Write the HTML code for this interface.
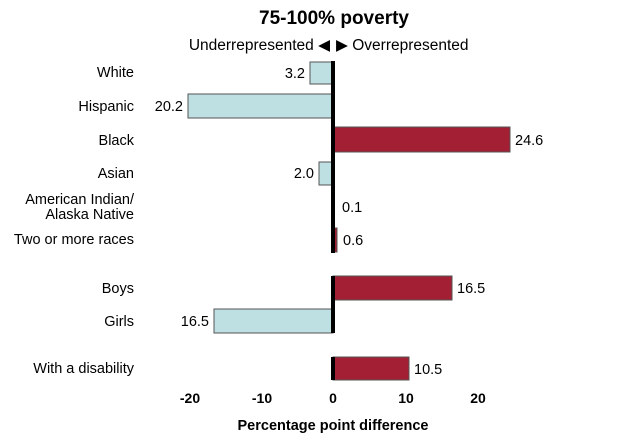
<!DOCTYPE html>
<html><head><meta charset="utf-8"><style>body{margin:0;background:#fff}svg{display:block}</style></head><body>
<svg width="622" height="441" viewBox="0 0 622 441" font-family="Liberation Sans, sans-serif" fill="#000">
<rect width="622" height="441" fill="#fff"/>
<text x="334" y="24" text-anchor="middle" font-size="19" font-weight="bold">75-100% poverty</text>
<text x="330" y="50" text-anchor="end" font-size="15.5">Underrepresented ◀</text>
<text x="336" y="50" font-size="15.5">▶ Overrepresented</text>
<g font-size="14.5">
<text x="134" y="77" text-anchor="end">White</text>
<text x="134" y="111" text-anchor="end">Hispanic</text>
<text x="134" y="145" text-anchor="end">Black</text>
<text x="134" y="178" text-anchor="end">Asian</text>
<text x="134" y="204" text-anchor="end">American Indian/</text>
<text x="134" y="219" text-anchor="end">Alaska Native</text>
<text x="134" y="244" text-anchor="end">Two or more races</text>
<text x="134" y="293" text-anchor="end">Boys</text>
<text x="134" y="326" text-anchor="end">Girls</text>
<text x="134" y="373" text-anchor="end">With a disability</text>
</g>
<g stroke="#555" stroke-width="1">
<rect x="310" y="62" width="23" height="22" fill="#bfe0e3"/>
<rect x="188" y="94" width="145" height="24" fill="#bfe0e3"/>
<rect x="333" y="127" width="177" height="25" fill="#a31f34"/>
<rect x="319" y="162" width="14" height="23" fill="#bfe0e3"/>
<rect x="333" y="228" width="4" height="24" fill="#a31f34"/>
<rect x="333" y="276" width="119" height="24" fill="#a31f34"/>
<rect x="214" y="309" width="119" height="24" fill="#bfe0e3"/>
<rect x="333" y="357" width="76" height="23" fill="#a31f34"/>
</g>
<g fill="#000">
<rect x="331" y="61" width="4" height="192"/>
<rect x="331" y="276" width="4" height="57"/>
<rect x="331" y="357" width="4" height="23"/>
</g>
<g font-size="14.5">
<text x="305" y="78" text-anchor="end">3.2</text>
<text x="183" y="111" text-anchor="end">20.2</text>
<text x="515" y="145" >24.6</text>
<text x="314" y="178" text-anchor="end">2.0</text>
<text x="342" y="212">0.1</text>
<text x="343" y="245">0.6</text>
<text x="457" y="293">16.5</text>
<text x="209" y="326" text-anchor="end">16.5</text>
<text x="414" y="374">10.5</text>
</g>
<g font-size="14" font-weight="bold" text-anchor="middle">
<text x="190" y="403">-20</text>
<text x="262" y="403">-10</text>
<text x="333" y="403">0</text>
<text x="406" y="403">10</text>
<text x="478" y="403">20</text>
<text x="333" y="430" font-size="14.5">Percentage point difference</text>
</g>
</svg>
</body></html>
